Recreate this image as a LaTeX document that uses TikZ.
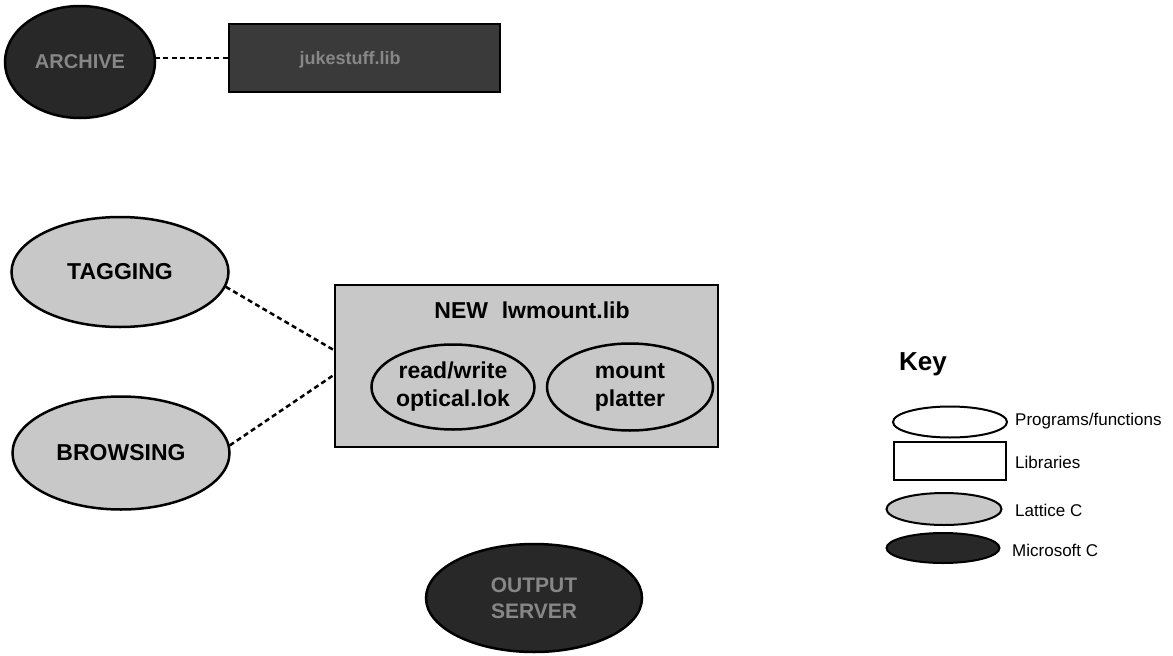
\documentclass[tikz,border=0pt]{standalone}
\usepackage{fontspec}
\setmainfont{Liberation Sans}
\usetikzlibrary{shapes.geometric}
\definecolor{light}{RGB}{200,200,200}
\definecolor{dark}{RGB}{40,40,40}
\definecolor{darklib}{RGB}{58,58,58}
\definecolor{darktext}{RGB}{135,135,135}
\begin{document}
\begin{tikzpicture}[x=1pt,y=-1pt,
  prog/.style={ellipse, draw=black, line width=2.5pt, inner sep=0pt, align=center,
    font=\bfseries\fontsize{23}{28}\selectfont},
  lattice/.style={prog, fill=light},
  msc/.style={prog, fill=dark, text=darktext},
  lib/.style={rectangle, draw=black, line width=2.5pt, inner sep=0pt},
  link/.style={line width=2.5pt, dash pattern=on 5pt off 3.5pt},
  keyprog/.style={ellipse, draw=black, line width=2pt, inner sep=0pt},
  keylabel/.style={anchor=west, inner sep=0pt, font=\fontsize{17}{20}\selectfont},
  plain/.style={inner sep=0pt}]
\useasboundingbox (0,0) rectangle (1173,656);

% top row
\node[msc, minimum width=150pt, minimum height=112pt, font=\bfseries\fontsize{20}{24}\selectfont] (archive) at (80,62) {ARCHIVE};
\node[lib, fill=darklib, minimum width=271pt, minimum height=68pt] (juke) at (364.5,58) {};
\node[plain, text=darktext, font=\bfseries\fontsize{18}{20}\selectfont] (jukelabel) at (350,60) {jukestuff.lib};
\draw[link] (juke.west) -- (archive.east |- juke.west);

% lattice programs
\node[lattice, minimum width=217pt, minimum height=110pt] (tagging) at (120,272) {TAGGING};
\node[lattice, minimum width=217pt, minimum height=113pt] (browsing) at (121,453) {BROWSING};

% new library
\node[lib, fill=light, minimum width=383pt, minimum height=162pt] (lw) at (526.5,366) {};
\node[plain, font=\bfseries\fontsize{23}{26}\selectfont] (lwtitle) at (532,310) {NEW\hspace{0.6em}lwmount.lib};
\node[prog, fill=light, minimum width=163pt, minimum height=85pt] (rw) at (453,387) {read/write\\optical.lok};
\node[prog, fill=light, minimum width=166pt, minimum height=87pt] (mount) at (630,387) {mount\\platter};

\coordinate (j1) at ([yshift=16pt]lw.west);
\coordinate (j2) at ([yshift=-9pt]lw.west);
\draw[link] (tagging.-8) -- (j1);
\draw[link] (browsing.4) -- (j2);

% output server
\node[msc, minimum width=216pt, minimum height=108pt, font=\bfseries\fontsize{21}{26}\selectfont] (output) at (534,598) {OUTPUT\\SERVER};

% key
\node[plain, anchor=west, font=\bfseries\fontsize{26}{28}\selectfont] (keytitle) at (899,364) {Key};
\node[keyprog, fill=white, minimum width=114pt, minimum height=31pt] (k1) at (950,422) {};
\node[lib, line width=2pt, fill=white, minimum width=112pt, minimum height=38pt] (k2) at (950,461) {};
\node[keyprog, fill=light, minimum width=115pt, minimum height=32pt] (k3) at (944,509) {};
\node[keyprog, fill=dark, minimum width=113pt, minimum height=30pt] (k4) at (943,548) {};
\node[keylabel] (l1) at (1015,421) {Programs/functions};
\node[keylabel] (l2) at (1015,462) {Libraries};
\node[keylabel] (l3) at (1015,510) {Lattice C};
\node[keylabel] (l4) at (1012,550) {Microsoft C};
\end{tikzpicture}
\end{document}
